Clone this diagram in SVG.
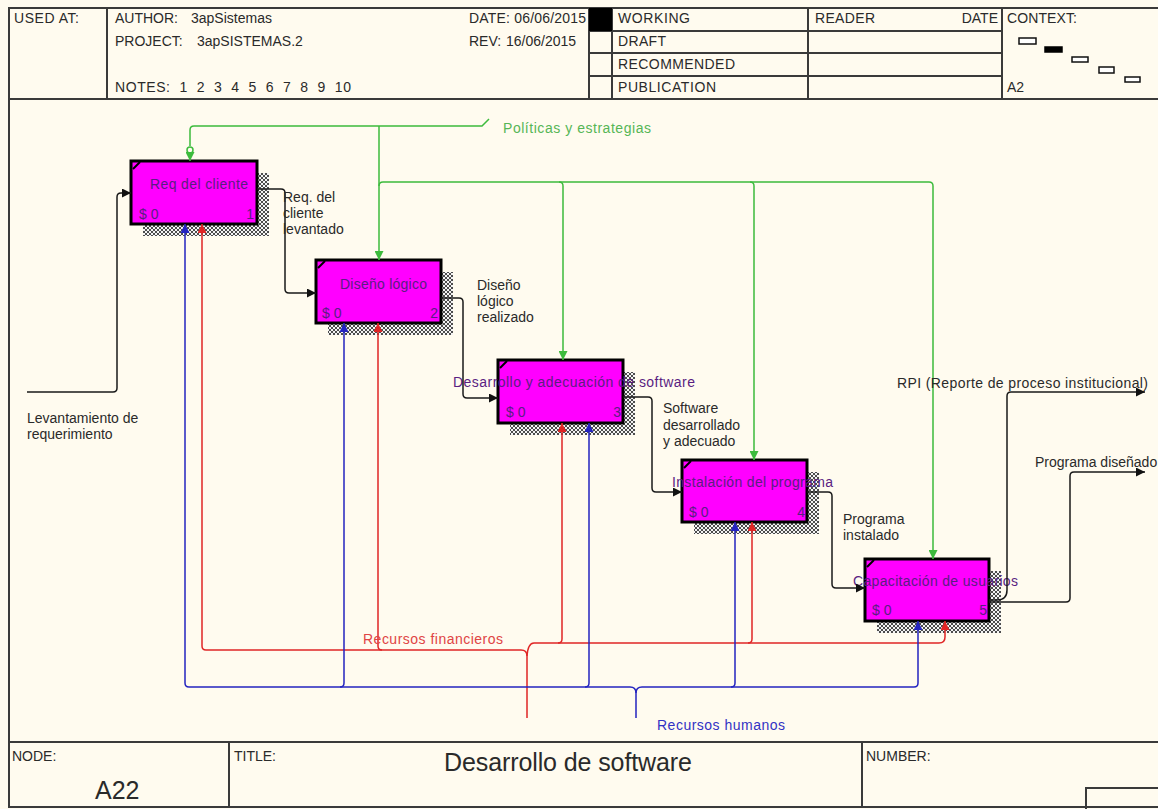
<svg xmlns="http://www.w3.org/2000/svg" width="1158" height="809" viewBox="0 0 1158 809">
<style>
.t{font-family:"Liberation Sans",Arial,sans-serif;font-size:14px;fill:#2a2a2a}
.bt{font-family:"Liberation Sans",Arial,sans-serif;font-size:14px;fill:#5a1e82}
.big{font-family:"Liberation Sans",Arial,sans-serif;font-size:25px;fill:#2a2a2a}
.fr{stroke:#3a3a3a;stroke-width:2;fill:none}
.box{fill:#ff00ff;stroke:#000;stroke-width:3}
.sh{fill:url(#hatch)}
.cm{stroke:#000;stroke-width:2}
.k{stroke:#1a1a1a;stroke-width:1.5;fill:none}
.g{stroke:#3dbb3d;stroke-width:1.5;fill:none}
.r{stroke:#e02626;stroke-width:1.5;fill:none}
.b{stroke:#2424c0;stroke-width:1.5;fill:none}
.gl{font-family:"Liberation Sans",Arial,sans-serif;font-size:14px;fill:#56b656}
.rl{font-family:"Liberation Sans",Arial,sans-serif;font-size:14px;fill:#e04444}
.bl{font-family:"Liberation Sans",Arial,sans-serif;font-size:14px;fill:#3232c4}
</style>
<defs>
<pattern id="hatch" width="4" height="4" patternUnits="userSpaceOnUse">
<rect width="4" height="4" fill="#f4f4f4"/>
<path d="M0,0 L4,4 M4,0 L0,4" stroke="#222" stroke-width="0.8"/>
</pattern>
<marker id="ak" viewBox="0 0 8 8" refX="8" refY="4" markerWidth="9" markerHeight="9" markerUnits="userSpaceOnUse" orient="auto"><path d="M0,0 L8,4 L0,8 z" fill="#111"/></marker>
<marker id="ag" viewBox="0 0 8 8" refX="8" refY="4" markerWidth="9" markerHeight="9" markerUnits="userSpaceOnUse" orient="auto"><path d="M0,0 L8,4 L0,8 z" fill="#3dbb3d"/></marker>
<marker id="ar" viewBox="0 0 8 8" refX="8" refY="4" markerWidth="9" markerHeight="9" markerUnits="userSpaceOnUse" orient="auto"><path d="M0,0 L8,4 L0,8 z" fill="#e02626"/></marker>
<marker id="ab" viewBox="0 0 8 8" refX="8" refY="4" markerWidth="9" markerHeight="9" markerUnits="userSpaceOnUse" orient="auto"><path d="M0,0 L8,4 L0,8 z" fill="#2424c0"/></marker>
</defs>
<rect x="0" y="0" width="1158" height="809" fill="#fffbef"/>

<g id="frame">
<rect x="9" y="8" width="1160" height="799" class="fr"/>
<path class="fr" d="M9 99 H1158 M107 8 V99 M589 8 V99 M612 8 V99 M808 8 V99 M1002 8 V99 M589 31 H1002 M589 53 H1002 M589 76 H1002"/>
<rect x="589" y="8" width="23" height="23" fill="#000"/>
<path class="fr" d="M9 742 H1158 M229 742 V807 M862 742 V807 M1086 809 V788 H1158"/>
<text class="t" x="14" y="23" textLength="65">USED AT:</text>
<text class="t" x="115" y="23">AUTHOR:<tspan x="191">3apSistemas</tspan></text>
<text class="t" x="115" y="46">PROJECT:<tspan x="197">3apSISTEMAS.2</tspan></text>
<text class="t" x="115" y="92" style="white-space:pre" textLength="236">NOTES:  1  2  3  4  5  6  7  8  9  10</text>
<text class="t" x="469" y="23" textLength="117">DATE: 06/06/2015</text>
<text class="t" x="469" y="46">REV:<tspan x="506">16/06/2015</tspan></text>
<text class="t" x="618" y="23" textLength="72">WORKING</text>
<text class="t" x="618" y="46" textLength="48">DRAFT</text>
<text class="t" x="618" y="69" textLength="117">RECOMMENDED</text>
<text class="t" x="618" y="92" textLength="98">PUBLICATION</text>
<text class="t" x="815" y="23" textLength="60">READER</text>
<text class="t" x="998" y="23" text-anchor="end">DATE</text>
<text class="t" x="1007" y="23" textLength="70">CONTEXT:</text>
<text class="t" x="1007" y="92">A2</text>
<rect x="1019" y="38" width="17" height="6" fill="#fff" stroke="#111" stroke-width="1.5"/>
<rect x="1045" y="47" width="17" height="5" fill="#000" stroke="#000" stroke-width="1.5"/>
<rect x="1072" y="57" width="16" height="5" fill="#fff" stroke="#111" stroke-width="1.5"/>
<rect x="1099" y="67" width="15" height="6" fill="#fff" stroke="#111" stroke-width="1.5"/>
<rect x="1125" y="77" width="15" height="5" fill="#fff" stroke="#111" stroke-width="1.5"/>
<text class="t" x="12" y="761" font-size="13">NODE:</text>
<text class="big" x="95" y="799">A22</text>
<text class="t" x="234" y="761" font-size="13">TITLE:</text>
<text class="big" x="444" y="771" textLength="248">Desarrollo de software</text>
<text class="t" x="866" y="761" font-size="13">NUMBER:</text>
</g>

<g id="node1">
<polygon class="sh" points="257,173 269,173 269,236 143,236 143,224 257,224"/>
<rect class="box" x="131" y="161" width="126" height="63"/>
<line class="cm" x1="133" y1="169" x2="140" y2="162"/>
<text class="bt" x="150" y="189" textLength="98">Req del cliente</text>
<text class="bt" x="139" y="219">$ 0</text>
<text class="bt" x="254" y="219" text-anchor="end">1</text>
</g>
<g id="node2">
<polygon class="sh" points="441,272 453,272 453,335 328,335 328,323 441,323"/>
<rect class="box" x="316" y="260" width="125" height="63"/>
<line class="cm" x1="318" y1="268" x2="325" y2="261"/>
<text class="bt" x="340" y="289" textLength="87">Diseño lógico</text>
<text class="bt" x="322" y="318">$ 0</text>
<text class="bt" x="438" y="318" text-anchor="end">2</text>
</g>
<g id="node3">
<polygon class="sh" points="623,372 635,372 635,435 510,435 510,423 623,423"/>
<rect class="box" x="498" y="360" width="125" height="63"/>
<line class="cm" x1="500" y1="368" x2="507" y2="361"/>
<text class="bt" x="453" y="387" textLength="242">Desarrollo y adecuación de software</text>
<text class="bt" x="506" y="417">$ 0</text>
<text class="bt" x="621" y="417" text-anchor="end">3</text>
</g>
<g id="node4">
<polygon class="sh" points="807,472 819,472 819,534 694,534 694,522 807,522"/>
<rect class="box" x="682" y="460" width="125" height="62"/>
<line class="cm" x1="684" y1="468" x2="691" y2="461"/>
<text class="bt" x="672" y="487" textLength="161">Instalación del programa</text>
<text class="bt" x="689" y="517">$ 0</text>
<text class="bt" x="805" y="517" text-anchor="end">4</text>
</g>
<g id="node5">
<polygon class="sh" points="989,571 1001,571 1001,633 877,633 877,621 989,621"/>
<rect class="box" x="865" y="559" width="124" height="62"/>
<line class="cm" x1="867" y1="567" x2="874" y2="560"/>
<text class="bt" x="853" y="586" textLength="165">Capacitación de usuarios</text>
<text class="bt" x="872" y="615">$ 0</text>
<text class="bt" x="987" y="615" text-anchor="end">5</text>
</g>

<g id="connectors">
<path class="k" marker-end="url(#ak)" d="M27 392 H113 Q117 392 117 388 V197 Q117 193 121 193 H131"/>
<path class="k" marker-end="url(#ak)" d="M257 189 H281 Q285 189 285 193 V289 Q285 293 289 293 H316"/>
<path class="k" marker-end="url(#ak)" d="M441 298 H459 Q463 298 463 302 V394 Q463 398 467 398 H498"/>
<path class="k" marker-end="url(#ak)" d="M623 397 H648 Q652 397 652 401 V488 Q652 492 656 492 H682"/>
<path class="k" marker-end="url(#ak)" d="M807 492 H828 Q832 492 832 496 V584 Q832 588 836 588 H865"/>
<path class="k" marker-end="url(#ak)" d="M989 600 H997 Q1007 600 1007 590 V396 Q1007 392 1011 392 H1145"/>
<path class="k" marker-end="url(#ak)" d="M989 602 H1066 Q1070 602 1070 598 V476 Q1070 472 1074 472 H1145"/>

<path class="g" d="M489 119 L482 126 H194 Q190 126 190 130 V146"/>
<path class="g" marker-end="url(#ag)" d="M190 153 V161"/>
<circle cx="190" cy="150" r="3" fill="none" stroke="#3dbb3d" stroke-width="1.5"/>
<path class="g" marker-end="url(#ag)" d="M379 126 V260"/>
<path class="g" d="M379 186 Q379 182 383 182 H929"/>
<path class="g" marker-end="url(#ag)" d="M929 182 Q933 182 933 186 V559"/>
<path class="g" marker-end="url(#ag)" d="M559 182 Q563 182 563 186 V360"/>
<path class="g" marker-end="url(#ag)" d="M750 182 Q754 182 754 186 V460"/>

<path class="r" marker-end="url(#ar)" d="M527 718 V656 Q527 650 521 650 H206 Q202 650 202 646 V224"/>
<path class="r" marker-end="url(#ar)" d="M382 650 Q378 650 378 646 V323"/>
<path class="r" marker-end="url(#ar)" d="M527 656 Q528 643 534 643 H939 Q945 643 945 637 V621"/>
<path class="r" marker-end="url(#ar)" d="M558 643 Q562 643 562 639 V423"/>
<path class="r" marker-end="url(#ar)" d="M748 643 Q752 643 752 639 V522"/>

<path class="b" marker-end="url(#ab)" d="M636 718 V693 Q636 687 630 687 H189 Q185 687 185 683 V224"/>
<path class="b" marker-end="url(#ab)" d="M636 693 Q636 687 642 687 H914 Q918 687 918 683 V621"/>
<path class="b" marker-end="url(#ab)" d="M340 687 Q344 687 344 683 V323"/>
<path class="b" marker-end="url(#ab)" d="M585 687 Q589 687 589 683 V423"/>
<path class="b" marker-end="url(#ab)" d="M731 687 Q735 687 735 683 V522"/>

<text class="t" x="283" y="202">Req. del</text>
<text class="t" x="283" y="218">cliente</text>
<text class="t" x="283" y="234">levantado</text>
<text class="t" x="477" y="290">Diseño</text>
<text class="t" x="477" y="306">lógico</text>
<text class="t" x="477" y="322">realizado</text>
<text class="t" x="663" y="413">Software</text>
<text class="t" x="663" y="430">desarrollado</text>
<text class="t" x="663" y="446">y adecuado</text>
<text class="t" x="843" y="524">Programa</text>
<text class="t" x="843" y="540">instalado</text>
<text class="t" x="897" y="388" textLength="251">RPI (Reporte de proceso institucional)</text>
<text class="t" x="1035" y="467">Programa diseñado</text>
<text class="t" x="27" y="423">Levantamiento de</text>
<text class="t" x="27" y="439">requerimiento</text>
<text class="gl" x="503" y="133" textLength="148">Políticas y estrategias</text>
<text class="rl" x="363" y="644" textLength="140">Recursos financieros</text>
<text class="bl" x="657" y="730" textLength="128">Recursos humanos</text>
</g>
</svg>
